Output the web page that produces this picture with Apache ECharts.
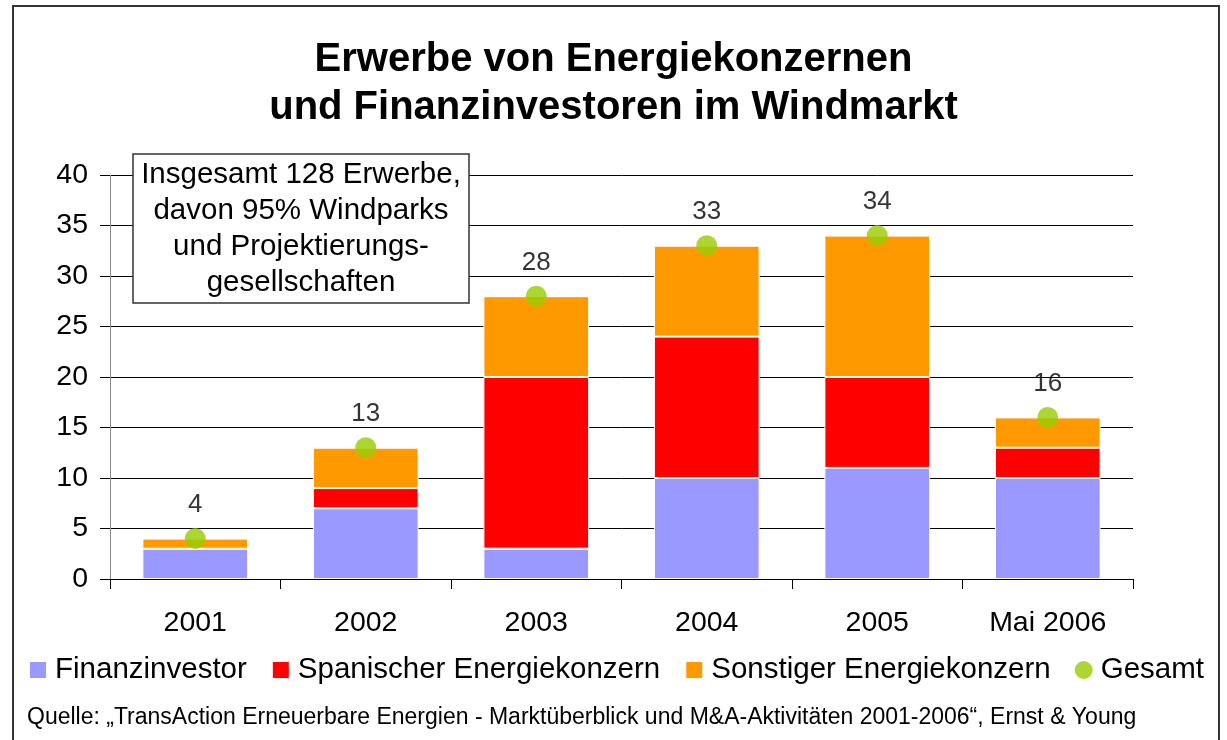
<!DOCTYPE html>
<html>
<head>
<meta charset="utf-8">
<script src="https://cdn.jsdelivr.net/npm/echarts@6/dist/echarts.min.js"></script>
<style>
html, body { margin: 0; padding: 0; background: #fff; }
#chart { width: 1227px; height: 740px; }
</style>
</head>
<body>
<div id="chart"></div>
<script>
var years = ['2001', '2002', '2003', '2004', '2005', 'Mai 2006'];
var finanzinvestor = [3, 7, 3, 10, 11, 10];
var spanischer = [0, 2, 17, 14, 9, 3];
var sonstiger = [1, 4, 8, 9, 14, 3];
var gesamt = [4, 13, 28, 33, 34, 16];
var yTicks = [0, 5, 10, 15, 20, 25, 30, 35, 40];

var font = 'Arial, "Liberation Sans", sans-serif';
var chart = echarts.init(document.getElementById('chart'));

var option = {
  animation: false,
  backgroundColor: '#fff',
  textStyle: { fontFamily: font, color: '#000' },
  title: {
    text: 'Erwerbe von Energiekonzernen\nund Finanzinvestoren im Windmarkt',
    left: 'center',
    top: 31,
    textStyle: { fontFamily: font, fontSize: 40, fontWeight: 'bold', color: '#000', lineHeight: 48 }
  },
  legend: {
    left: 23,
    top: 650,
    itemWidth: 18,
    itemHeight: 18,
    itemGap: 24,
    textStyle: { fontFamily: font, fontSize: 29.5, color: '#000', padding: [0, 0, 0, 3] },
    data: [
      { name: 'Finanzinvestor', icon: 'rect' },
      { name: 'Spanischer Energiekonzern', icon: 'rect' },
      { name: 'Sonstiger Energiekonzern', icon: 'rect' },
      { name: 'Gesamt', icon: 'circle' }
    ]
  },
  grid: { left: 110, right: 94, top: 175, bottom: 161 },
  xAxis: {
    type: 'category',
    data: years,
    axisLine: { lineStyle: { color: '#000' } },
    axisTick: { show: true, length: 10, lineStyle: { color: '#000' } },
    axisLabel: { fontSize: 28.5, color: '#000', margin: 30, fontFamily: font }
  },
  yAxis: {
    type: 'value',
    min: yTicks[0],
    max: yTicks[yTicks.length - 1],
    interval: 5,
    axisLine: { show: true, lineStyle: { color: '#888' } },
    axisTick: { show: true, length: 10, lineStyle: { color: '#000' } },
    axisLabel: { fontSize: 28.5, color: '#000', margin: 22, fontFamily: font },
    splitLine: { lineStyle: { color: '#000', width: 1 } }
  },
  series: [
    {
      name: 'Finanzinvestor', type: 'bar', stack: 'a', barWidth: '62%',
      itemStyle: { color: '#9999FF', borderColor: '#fff', borderWidth: 1 },
      data: finanzinvestor
    },
    {
      name: 'Spanischer Energiekonzern', type: 'bar', stack: 'a',
      itemStyle: { color: '#FF0000', borderColor: '#fff', borderWidth: 1 },
      data: spanischer
    },
    {
      name: 'Sonstiger Energiekonzern', type: 'bar', stack: 'a',
      itemStyle: { color: '#FF9900', borderColor: '#fff', borderWidth: 1 },
      data: sonstiger
    },
    {
      name: 'Gesamt', type: 'scatter', symbol: 'circle', symbolSize: 21, z: 5,
      itemStyle: { color: '#99CC00' },
      label: { show: true, position: 'top', distance: 10, fontSize: 26, color: '#000', fontFamily: font },
      data: gesamt
    }
  ],
  graphic: [
    {
      type: 'rect', z: 0, silent: true,
      shape: { x: 13, y: 6, width: 1206, height: 760 },
      style: { fill: 'none', stroke: '#333', lineWidth: 2 }
    },
    {
      type: 'rect', z: 100,
      shape: { x: 133, y: 154, width: 336, height: 149 },
      style: { fill: '#fff', stroke: '#333', lineWidth: 1.5 }
    },
    {
      type: 'text', z: 101,
      x: 301, y: 157,
      style: {
        text: 'Insgesamt 128 Erwerbe,\ndavon 95% Windparks\nund Projektierungs-\ngesellschaften',
        font: '29.5px ' + font,
        fill: '#000',
        align: 'center',
        lineHeight: 36
      }
    },
    {
      type: 'text', z: 101,
      x: 27, y: 706,
      style: {
        text: 'Quelle: „TransAction Erneuerbare Energien - Marktüberblick und M&A-Aktivitäten 2001-2006“, Ernst & Young',
        font: '23px ' + font,
        fill: '#000'
      }
    }
  ]
};

chart.setOption(option);
</script>
</body>
</html>
